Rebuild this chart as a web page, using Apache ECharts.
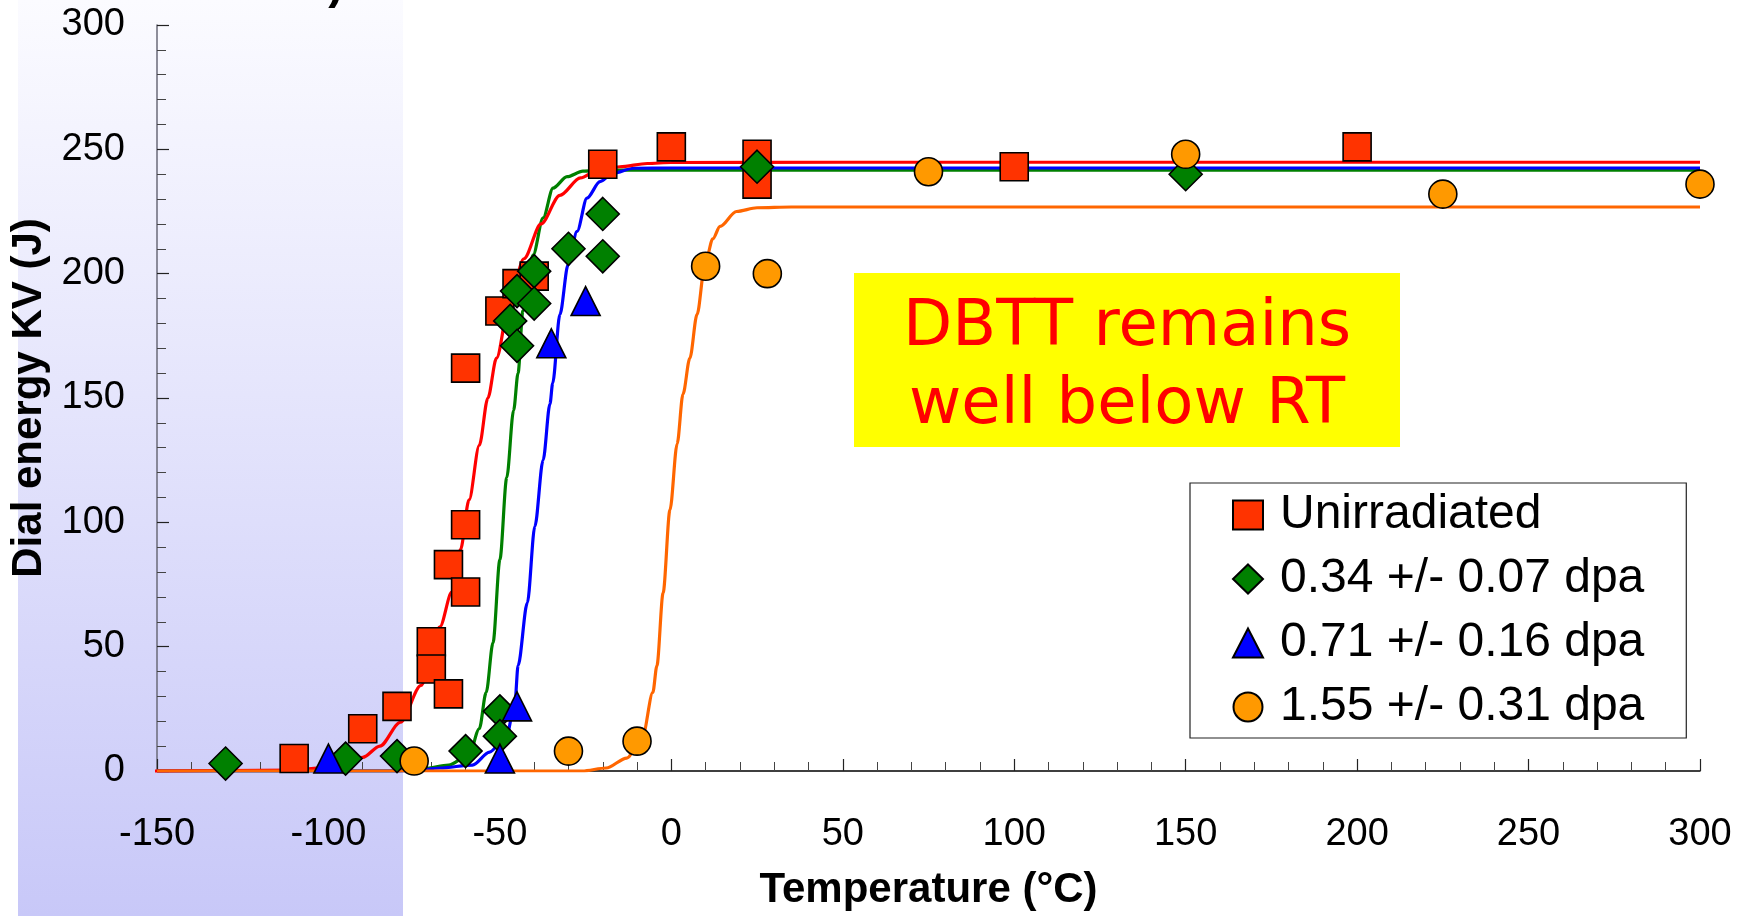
<!DOCTYPE html>
<html>
<head>
<meta charset="utf-8">
<title>Charpy transition curves</title>
<script src="https://cdn.jsdelivr.net/npm/echarts@6/dist/echarts.min.js"></script>
<style>
  html, body { margin: 0; padding: 0; background: #ffffff; }
  #chart { width: 1749px; height: 916px; }
</style>
</head>
<body>
<div id="chart"></div>
<script>
// Series names (legend order)
const seriesNames = ['Unirradiated', '0.34 +/- 0.07 dpa', '0.71 +/- 0.16 dpa', '1.55 +/- 0.31 dpa'];

// Measured Charpy points: [temperature °C, dial energy J]
const unirradiatedPts = [
  [-110, 5], [-90, 17], [-80, 26], [-70, 52], [-70, 41], [-65, 31], [-65, 83],
  [-60, 99], [-60, 72], [-60, 162], [-50, 185], [-45, 196], [-40, 199],
  [-20, 244], [0, 251], [25, 248], [25, 236], [100, 243], [200, 251]
];
const dpa034Pts = [
  [-130, 3], [-95, 5], [-80, 6], [-60, 8], [-50, 24], [-50, 14], [-47, 181],
  [-45, 171], [-45, 193], [-40, 201], [-40, 188], [-30, 210], [-20, 224],
  [-20, 207], [25, 243], [150, 240]
];
const dpa071Pts = [
  [-100, 5], [-50, 5], [-45, 26], [-35, 172], [-25, 189]
];
const dpa155Pts = [
  [-75, 4], [-30, 8], [-10, 12], [10, 203], [28, 200], [75, 241],
  [150, 248], [225, 232], [300, 236]
];

// Fitted transition curves
const unirradiatedFit = [
  [-155, 0], [-150, 0], [-130, 0.2], [-110, 0.4], [-100, 1.5], [-95, 3], [-90, 5.5],
  [-85, 10], [-79, 19.6], [-73, 34.4], [-67.5, 58], [-64, 72], [-61.5, 89],
  [-59, 109], [-56, 131], [-53.5, 150], [-51, 166], [-47, 190], [-43, 206],
  [-38, 220], [-32.5, 231.5], [-26.5, 238.5], [-21.5, 241.6], [-15, 243],
  [-7, 244.3], [0, 244.7], [50, 244.8], [300, 244.8]
];
const dpa034Fit = [
  [-150, 0], [-80, 0], [-72, 1], [-65, 2.4], [-59, 6.4], [-56, 17], [-54, 31.6],
  [-52, 51.6], [-50, 85], [-48, 118], [-46, 145], [-44.7, 160], [-43.3, 185],
  [-40.3, 207.6], [-37.4, 222.4], [-34.5, 234.4], [-30.4, 239], [-25.8, 241.2],
  [-20, 241.6], [300, 241.6]
];
const dpa071Fit = [
  [-150, 0], [-75, 0], [-67.5, 1.2], [-58, 2.4], [-53, 7.6], [-48, 14.4],
  [-45.6, 27.6], [-44.7, 42.4], [-42, 67.6], [-39.8, 98.4], [-37.4, 125],
  [-35.4, 147.6], [-34.6, 156], [-32.5, 183.6], [-30.1, 203.6], [-27.5, 217],
  [-24.6, 230.4], [-20.8, 237], [-17, 240.4], [-11, 242.4], [0, 242.5], [300, 242.5]
];
const dpa155Fit = [
  [-150, 0], [-26, 0], [-19, 1.2], [-13, 5.2], [-8.3, 14.4], [-5.4, 31.6],
  [-4.2, 42.4], [-2.4, 71.6], [-0.4, 105], [1.7, 131.6], [3.4, 151.6],
  [5.4, 166], [7.5, 183.6], [9.8, 203.6], [12.1, 214], [14.2, 219], [19, 225],
  [25, 226.5], [35, 226.8], [300, 226.8]
];

// Axis ranges
const xRange = { min: -150, max: 300, step: 50 };
const yRange = { min: 0, max: 300, step: 50 };

const FONT = '"Liberation Sans", Arial, sans-serif';

const chart = echarts.init(document.getElementById('chart'), null, { renderer: 'canvas' });

function fitLine(name, data, color, z, clip) {
  return {
    type: 'line', name: name, data: data, z: z,
    showSymbol: false, symbol: 'none', smooth: 0.3, smoothMonotone: 'x',
    clip: clip, silent: true,
    lineStyle: { color: color, width: 3.2 }
  };
}
function points(name, data, symbol, size, color, z) {
  return {
    type: 'scatter', name: name, data: data, z: z, clip: false,
    symbol: symbol, symbolSize: size,
    itemStyle: { color: color, borderColor: '#000', borderWidth: 1.6, opacity: 1 }
  };
}

chart.setOption({
  animation: false,
  backgroundColor: '#ffffff',
  grid: { left: 157, right: 49, top: 25, bottom: 140, containLabel: false },
  graphic: [
    {
      type: 'rect', z: -10, silent: true,
      shape: { x: 18, y: 0, width: 385, height: 916 },
      style: {
        fill: new echarts.graphic.LinearGradient(0, 0, 0, 1, [
          { offset: 0, color: '#fbfbff' },
          { offset: 1, color: '#c8c8f8' }
        ])
      }
    },
    {
      type: 'text', z: -5, silent: true, x: 336, y: -38,
      style: { text: ')', font: 'bold 46px ' + FONT, fill: '#000', textAlign: 'center' }
    },
    {
      type: 'rect', z: 5, silent: true,
      shape: { x: 854, y: 273, width: 546, height: 174 },
      style: { fill: '#ffff00' }
    },
    {
      type: 'text', z: 6, silent: true, x: 1127, y: 367,
      style: {
        text: 'DBTT remains\nwell below RT',
        font: '64px "DejaVu Sans", Verdana, sans-serif',
        fill: '#ff0000', textAlign: 'center', textVerticalAlign: 'middle', lineHeight: 78
      }
    }
  ],
  legend: {
    orient: 'vertical', left: 1190, top: 483,
    padding: [8, 42, 7, 42],
    backgroundColor: '#ffffff', borderColor: '#222', borderWidth: 1.2,
    itemWidth: 30, itemHeight: 29, itemGap: 16,
    textStyle: { fontSize: 48, lineHeight: 48, color: '#000', fontFamily: FONT, padding: [0, 0, 0, 12] },
    data: seriesNames
  },
  xAxis: {
    type: 'value', min: xRange.min, max: xRange.max, interval: xRange.step,
    name: 'Temperature (°C)', nameLocation: 'middle', nameGap: 98,
    nameTextStyle: { fontSize: 42, fontWeight: 'bold', color: '#000', fontFamily: FONT },
    axisLine: { show: true, onZero: false, lineStyle: { color: '#000', width: 1.5 } },
    axisTick: { show: true, inside: true, length: 12, lineStyle: { color: '#222', width: 1.2 } },
    minorTick: { show: true, splitNumber: 5, length: 9, lineStyle: { color: '#444', width: 1 } },
    splitLine: { show: false },
    axisLabel: { fontSize: 38, color: '#000', margin: 45, fontFamily: FONT }
  },
  yAxis: {
    type: 'value', min: yRange.min, max: yRange.max, interval: yRange.step,
    name: 'Dial energy KV (J)', nameLocation: 'middle', nameGap: 100, nameRotate: 90,
    nameTextStyle: { fontSize: 42, fontWeight: 'bold', color: '#000', fontFamily: FONT },
    axisLine: { show: true, onZero: false, lineStyle: { color: '#6a6a78', width: 1.5 } },
    axisTick: { show: true, inside: true, length: 12, lineStyle: { color: '#222', width: 1.2 } },
    minorTick: { show: true, splitNumber: 5, length: 9, lineStyle: { color: '#444', width: 1 } },
    splitLine: { show: false },
    axisLabel: { fontSize: 38, color: '#000', margin: 32, fontFamily: FONT }
  },
  series: [
    fitLine('fit-034', dpa034Fit, '#008000', 3, true),
    fitLine('fit-071', dpa071Fit, '#0000ff', 3, true),
    fitLine('fit-unirr', unirradiatedFit, '#ff0000', 3, false),
    fitLine('fit-155', dpa155Fit, '#ff6600', 3, true),
    points(seriesNames[0], unirradiatedPts, 'rect', 28, '#ff3300', 4),
    points(seriesNames[1], dpa034Pts, 'diamond', 33, '#008000', 4),
    points(seriesNames[2], dpa071Pts, 'triangle', 29, '#0000ff', 4),
    points(seriesNames[3], dpa155Pts, 'circle', 28, '#ff9900', 4)
  ]
});
</script>
</body>
</html>
